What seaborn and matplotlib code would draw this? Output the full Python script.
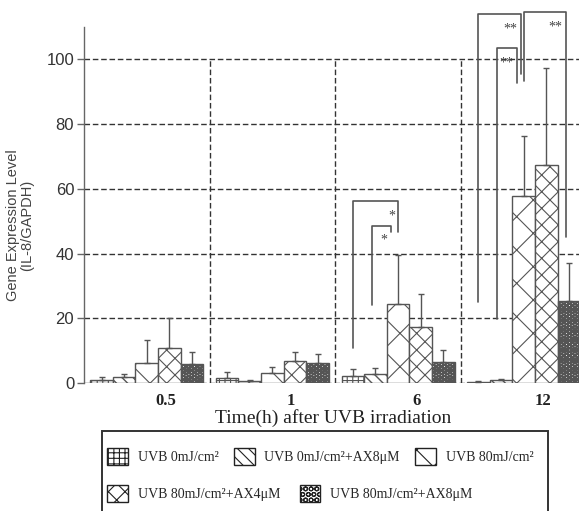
import numpy as np
import pandas as pd
import matplotlib.pyplot as plt
from matplotlib.patches import Patch, Rectangle
import seaborn as sns

sns.set_style("white")
plt.rcParams["font.family"] = ["Liberation Sans", "DejaVu Sans"]
plt.rcParams["hatch.linewidth"] = 0.8

times = ["0.5", "1", "6", "12"]
groups = ["UVB 0mJ/cm²", "UVB 0mJ/cm²+AX8μM", "UVB 80mJ/cm²",
          "UVB 80mJ/cm²+AX4μM", "UVB 80mJ/cm²+AX8μM"]

# mean expression, one value per time point
uvb0 = [1.0, 1.6, 2.2, 0.4]
uvb0_ax8 = [1.7, 0.5, 2.7, 0.9]
uvb80 = [6.3, 3.2, 24.5, 57.9]
uvb80_ax4 = [10.9, 6.9, 17.4, 67.3]
uvb80_ax8 = [5.8, 6.3, 6.4, 25.4]

# upper error bar length
err_uvb0 = [0.7, 1.7, 2.1, 0.3]
err_uvb0_ax8 = [1.0, 0.3, 1.8, 0.3]
err_uvb80 = [7.0, 1.8, 15.1, 18.3]
err_uvb80_ax4 = [9.1, 2.7, 10.2, 29.9]
err_uvb80_ax8 = [3.9, 2.6, 3.7, 11.7]

means = [uvb0, uvb0_ax8, uvb80, uvb80_ax4, uvb80_ax8]
errs = [err_uvb0, err_uvb0_ax8, err_uvb80, err_uvb80_ax4, err_uvb80_ax8]

# significance brackets: time index, bar from, bar to,
# left foot, top, right foot, label
brackets = [
    (2, 0, 2, 10.9, 56.1, 46.8, "*"),
    (2, 1, 2, 24.1, 48.6, 46.8, "*"),
    (3, 0, 2, 25.0, 114.0, 95.4, "**"),
    (3, 1, 2, 19.8, 103.4, 92.6, "**"),
    (3, 2, 4, 93.4, 114.6, 45.1, "**"),
]
# small horizontal nudges of the bracket legs
leg_shift = [(0, 0), (-0.03, -0.06), (0, -0.02), (-0.03, -0.05), (0.005, -0.02)]

hatches = ["+++", "\\\\\\", "x", "xx", "OOO"]
hatch_lw = [0.8, 1.0, 0.8, 0.8, 1.6]

df = pd.DataFrame({
    "time": times * len(groups),
    "group": np.repeat(groups, len(times)),
    "value": np.concatenate(means),
})

fig = plt.figure(figsize=(5.79, 5.11), dpi=100)
ax = fig.add_axes([0.145, 0.2505, 0.855, 0.6967])

sns.barplot(data=df, x="time", y="value", hue="group", order=times,
            hue_order=groups, palette={g: "white" for g in groups},
            saturation=1, width=0.9, edgecolor="#555555", linewidth=1,
            errorbar=None, legend=False, ax=ax)

bar_containers = list(ax.containers)
centers = []
for h, cont in enumerate(bar_containers):
    xs = []
    for bar in cont:
        bar.set_hatch(hatches[h])
        if hasattr(bar, "set_hatch_linewidth"):
            bar.set_hatch_linewidth(hatch_lw[h])
        xs.append(bar.get_x() + bar.get_width() / 2)
    centers.append(xs)
    ax.errorbar(xs, means[h], yerr=[np.zeros(len(times)), errs[h]],
                fmt="none", ecolor="#555555", elinewidth=1, capsize=2.5,
                capthick=1, zorder=3)

# grid
ax.set_axisbelow(True)
ax.grid(axis="y", linestyle=(0, (4, 2)), color="#333333", lw=1)
ax.grid(axis="x", visible=False)
ax.vlines([0.5, 1.5, 2.5], 0, 100, colors="#333333", lw=1,
          linestyles=(0, (4, 2)), zorder=0.5)

# brackets
for (t, b0, b1, yl, yt, yr, lab), (dl, dr) in zip(brackets, leg_shift):
    xl = centers[b0][t] + dl
    xr = centers[b1][t] + dr
    ax.plot([xl, xl, xr, xr], [yl, yt, yt, yr], color="#555555", lw=1.2,
            clip_on=False, zorder=4)
    ax.text(xr - (0.09 if len(lab) > 1 else 0.05), yt - 4.5, lab,
            ha="center", va="center", fontsize=10, color="#444444",
            family="Liberation Serif")

ax.set_xlim(-0.5, 3.44)
ax.set_ylim(0, 110)
ax.set_yticks(range(0, 101, 20))
ax.set_xticks(np.arange(len(times)) + 0.15, times)
for lab in ax.get_xticklabels():
    lab.set_family("Liberation Serif")
    lab.set_fontweight("bold")
    lab.set_fontsize(12)
    lab.set_color("#222222")

for s in ["top", "right", "bottom"]:
    ax.spines[s].set_visible(False)
ax.spines["left"].set_color("#666666")
ax.spines["left"].set_linewidth(1)

ax.tick_params(axis="y", direction="out", length=5, width=1, color="#666666",
               labelsize=12, labelcolor="#333333", pad=2, left=True)
ax.tick_params(axis="x", length=0, pad=7)

ax.set_ylabel("Gene Expression Level\n(IL-8/GAPDH)", fontsize=10.5,
              color="#444444", linespacing=1.0)
ax.yaxis.set_label_coords(-0.1, 0.444)
ax.set_xlabel("Time(h) after UVB irradiation", fontsize=14,
              family="Liberation Serif", color="#222222")
ax.xaxis.set_label_coords(0.503, -0.072)

# legend box
fig.add_artist(Rectangle((0.176, -0.05), 0.77, 0.2066, transform=fig.transFigure,
                         facecolor="none", edgecolor="#333333", lw=1.4))
handles = []
for i in range(len(groups)):
    p = Patch(facecolor="white", edgecolor="#222222", hatch=hatches[i], lw=1)
    if hasattr(p, "set_hatch_linewidth"):
        p.set_hatch_linewidth(hatch_lw[i])
    handles.append(p)
leg_kw = dict(frameon=False, handlelength=1.5, handleheight=1.5,
              handletextpad=0.7, borderpad=0, borderaxespad=0,
              prop={"family": "Liberation Serif", "size": 10})
fig.legend(handles[:3], groups[:3], loc="center left", ncol=3,
           bbox_to_anchor=(0.185, 0.106), columnspacing=1.1, **leg_kw)
fig.legend(handles[3:], groups[3:], loc="center left", ncol=2,
           bbox_to_anchor=(0.185, 0.035), columnspacing=1.4, **leg_kw)

fig.savefig("out.png", dpi=100)
